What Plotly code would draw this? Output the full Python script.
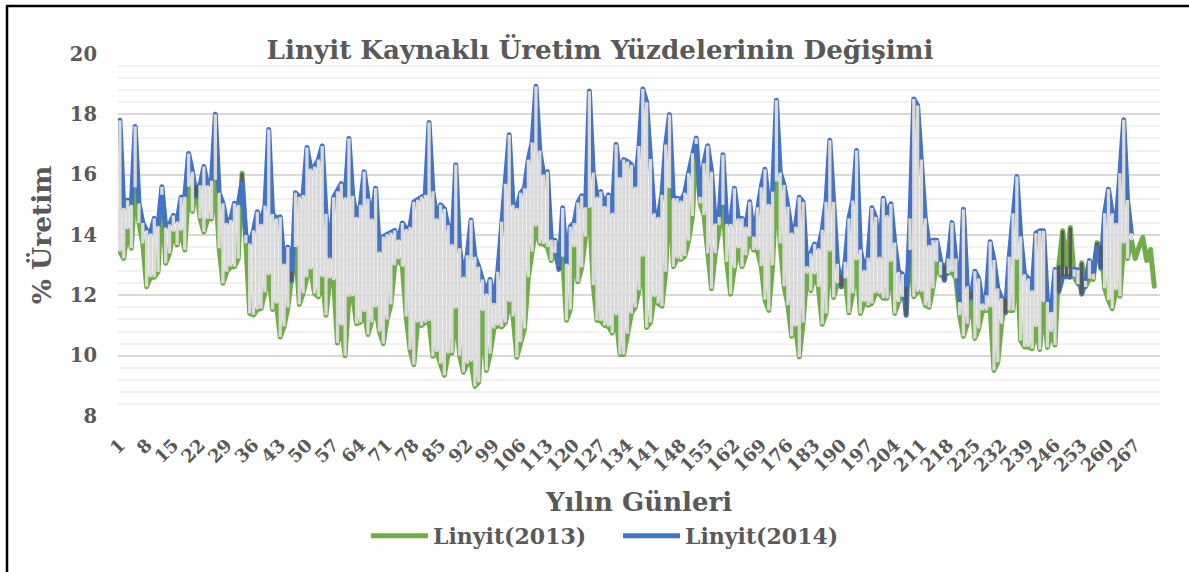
import plotly.graph_objects as go

title_text = "Linyit Kaynaklı Üretim Yüzdelerinin Değişimi"
x_title = "Yılın Günleri"
y_title = "% Üretim"
x_ticks = list(range(1, 268, 7))
y_ticks = [8, 10, 12, 14, 16, 18, 20]

linyit_2014 = [
    17.8,14.9,15.15,15.0,17.6,15.05,14.4,14.15,14.05,14.55,
    14.3,15.6,14.25,14.35,14.65,14.45,15.25,15.27,16.7,16.1,
    15.27,15.65,16.27,15.65,15.8,18.0,15.4,15.05,14.4,14.5,
    15.05,15.0,15.77,14.0,13.72,14.15,14.77,14.37,14.97,17.5,
    14.7,14.55,14.6,13.05,13.6,12.48,15.4,15.27,15.33,16.9,
    16.2,16.27,16.5,16.95,14.7,13.25,15.25,15.45,15.7,15.25,
    17.2,15.3,14.6,15.0,16.1,15.2,
    14.55,15.55,13.45,13.95,14.03,14.08,14.15,13.85,14.4,14.2,
    14.27,15.1,15.17,15.27,15.33,17.73,15.45,14.55,15.0,14.87,
    14.33,13.7,16.33,13.56,12.62,13.33,14.5,13.28,12.95,12.53,
    12.06,12.53,11.75,12.78,14.44,15.7,17.32,15.0,14.9,15.4,
    15.55,16.5,17.07,18.93,16.8,16.0,16.1,13.85,13.83,12.86,
    14.9,13.05,14.28,14.4,15.08,15.3,14.92,18.77,16.07,15.27,
    15.44,14.96,15.33,14.74,17.0,15.92,16.5,16.44,16.33,15.6,
    16.95,
    18.84,18.4,16.52,14.72,14.6,15.33,17.0,17.99,15.22,15.22,
    15.14,15.4,16.05,16.71,17.21,15.27,16.38,16.96,16.1,14.38,
    14.6,16.66,14.37,14.37,15.55,14.55,14.55,14.28,15.1,13.95,
    14.92,15.58,16.18,15.03,15.44,18.47,16.07,15.66,14.94,14.08,
    14.28,15.25,15.1,12.97,13.39,13.7,13.56,14.17,15.1,17.14,
    15.1,13.05,12.28,13.11,14.55,15.14,16.8,13.52,12.84,13.25,
    14.9,14.6,13.28,15.22,14.66,15.03,13.75,12.78,12.7,11.34,
    14.55,18.51,18.29,16.5,14.55,13.67,13.83,13.83,13.11,12.5,
    13.22,14.41,13.22,11.78,14.85,12.3,11.9,12.8,12.56,11.73,
    12.0,13.78,13.17,12.23,11.9,11.42,13.28,14.72,15.94,13.95,
    12.7,12.56,12.17,14.06,14.14,14.14,11.78,11.45,12.86,12.12,
    12.62,12.62,12.6,12.86,12.84,12.04,12.48,13.15,12.72,13.66,
    12.9,14.72,15.52,14.72,14.4,16.05,17.82,15.16,14.06,
]

linyit_2013 = [
    13.45,13.22,14.19,13.56,15.58,14.39,13.72,12.28,12.6,12.6,
    12.78,15.33,13.06,13.39,14.11,13.67,14.14,13.5,15.6,14.78,
    15.65,14.55,14.1,14.53,14.53,15.83,13.56,12.4,12.78,12.95,
    12.95,13.22,16.05,13.72,11.4,11.35,11.53,11.56,12.1,12.67,
    11.53,11.73,10.62,10.97,11.6,12.78,13.6,11.7,12.06,12.6,
    12.86,12.06,11.95,12.6,11.34,12.56,12.5,10.42,11.0,10.0,
    11.95,11.97,11.06,11.1,11.45,10.7,
    11.1,11.6,10.8,10.4,11.2,11.7,13.0,13.2,12.95,11.3,
    10.2,9.7,11.1,11.0,11.1,11.15,9.98,10.12,9.73,9.35,
    10.07,10.09,11.56,10.0,9.45,9.73,9.8,8.98,9.12,11.48,
    9.51,10.07,10.9,11.0,10.95,11.1,11.78,11.3,9.95,10.45,
    10.9,12.6,13.45,14.28,13.72,13.7,13.6,13.15,13.4,12.95,
    13.28,11.17,11.53,13.6,12.45,12.93,13.95,14.9,12.34,11.17,
    11.15,11.0,10.97,10.75,11.34,10.04,10.04,10.73,11.4,11.6,
    12.17,
    13.28,10.93,11.1,11.95,11.73,11.64,12.78,15.55,12.95,13.22,
    13.19,13.3,13.81,14.63,17.02,15.05,14.66,13.39,12.22,13.4,
    14.33,15.0,13.11,12.04,12.9,13.56,12.95,13.33,13.95,13.5,
    13.5,12.97,11.86,11.5,13.0,15.77,13.72,12.3,11.67,10.64,
    10.97,9.96,11.1,12.72,12.15,12.7,12.28,11.04,11.4,13.45,
    11.93,12.4,12.67,12.56,11.42,12.07,13.16,11.4,11.78,11.67,
    11.73,12.07,12.05,11.9,11.9,13.11,11.4,11.78,11.95,12.28,
    13.5,11.95,12.12,12.12,11.67,11.6,12.23,13.11,12.67,13.0,
    12.73,12.78,12.56,11.34,10.64,11.06,12.12,10.57,10.9,11.5,
    11.5,11.6,9.51,9.78,11.06,11.9,11.5,11.5,13.17,10.5,
    10.29,10.29,10.23,10.95,10.2,11.78,10.27,10.79,10.35,13.0,
    14.14,12.95,14.25,12.62,12.37,13.08,12.28,12.56,12.53,13.74,
    13.66,12.23,11.84,11.56,12.17,11.97,13.72,13.22,13.83,
    13.22,13.6,13.92,13.15,13.52,12.3,
]

assert len(linyit_2014) == 266, len(linyit_2014)
assert len(linyit_2013) == 272, len(linyit_2013)

days_2013 = list(range(1, len(linyit_2013) + 1))
days_2014 = list(range(1, len(linyit_2014) + 1))

FONT = "DejaVu Serif"
TEXT = "#595959"
GREEN = "#70AD47"
BLUE = "#4472C4"

up_x, up_y, down_x, down_y = [], [], [], []
for d, g, b in zip(days_2014, linyit_2013, linyit_2014):
    if b >= g:
        up_x += [d, d, None]
        up_y += [g, b, None]
    else:
        down_x += [d, d, None]
        down_y += [g, b, None]

fig = go.Figure()
fig.add_trace(go.Scatter(x=days_2013, y=linyit_2013, name="Linyit(2013)", mode="lines", cliponaxis=False,
                         line=dict(color=GREEN, width=5)))
fig.add_trace(go.Scatter(x=days_2014, y=linyit_2014, name="Linyit(2014)", mode="lines", cliponaxis=False,
                         line=dict(color=BLUE, width=5)))
fig.add_trace(go.Scatter(x=up_x, y=up_y, mode="lines", showlegend=False, hoverinfo="skip",
                         line=dict(color="#DADADA", width=3.3)))
fig.add_trace(go.Scatter(x=down_x, y=down_y, mode="lines", showlegend=False, hoverinfo="skip",
                         line=dict(color="#595959", width=3.3)))

PLOT_W, PLOT_H = 1042, 362
PLOT_L, PLOT_B = 118, 416


def px(x):
    return (x - PLOT_L) / PLOT_W


def py(y):
    return (PLOT_B - y) / PLOT_H


fig.update_layout(
    width=1189, height=572,
    margin=dict(l=118, r=29, t=54, b=156),
    paper_bgcolor="white", plot_bgcolor="white",
    font=dict(family=FONT, color=TEXT),
    title=dict(text=f"<b>{title_text}</b>", x=600 / 1189, xanchor="center",
               y=1 - 50 / 572, yanchor="middle", font=dict(size=26.2, family=FONT, color=TEXT)),
    xaxis=dict(range=[0.5, 273.5], tickmode="array", tickvals=x_ticks, ticktext=[str(v) for v in x_ticks],
               tickangle=-45, showgrid=False, zeroline=False, showline=False, ticks="", ticklabelstandoff=14,
               tickfont=dict(size=18, family=FONT, color=TEXT, weight="bold"),
               title=dict(text=f"<b>{x_title}</b>", standoff=18, font=dict(size=26, family=FONT, color=TEXT))),
    yaxis=dict(range=[8, 20], tickmode="array", tickvals=y_ticks, zeroline=False, showline=False, ticks="",
               ticklabelstandoff=20,
               gridcolor="#D9D9D9", gridwidth=1.5,
               minor=dict(dtick=0.4, tick0=8, showgrid=True, gridcolor="#F2F2F2", gridwidth=1.5, ticks=""),
               tickfont=dict(size=19.5, family=FONT, color=TEXT, weight="bold"),
               title=dict(text=f"<b>{y_title}</b>", standoff=10, font=dict(size=26.5, family=FONT, color=TEXT))),
    legend=dict(orientation="h", x=px(618), xanchor="center", y=py(536), yanchor="middle",
                font=dict(size=22, family=FONT, color=TEXT, weight="bold"), itemwidth=57,
                entrywidth=180, entrywidthmode="pixels",
                bgcolor="rgba(0,0,0,0)"),
    shapes=[
        dict(type="line", xref="paper", yref="paper", x0=px(7), x1=px(7), y0=py(572), y1=py(6),
             line=dict(color="black", width=2.5)),
        dict(type="line", xref="paper", yref="paper", x0=px(6), x1=px(1189), y0=py(6), y1=py(6),
             line=dict(color="black", width=2.5)),
    ],
)

POST = """
document.body.style.margin='0';
var s=document.createElement('style');
s.textContent='.scatterlayer .trace:nth-child(-n+2) .js-line{stroke-linejoin:round !important;stroke-linecap:round !important;}';
document.head.appendChild(s);
"""
fig.write_html("out.html", post_script=POST, config=dict(displayModeBar=False))
